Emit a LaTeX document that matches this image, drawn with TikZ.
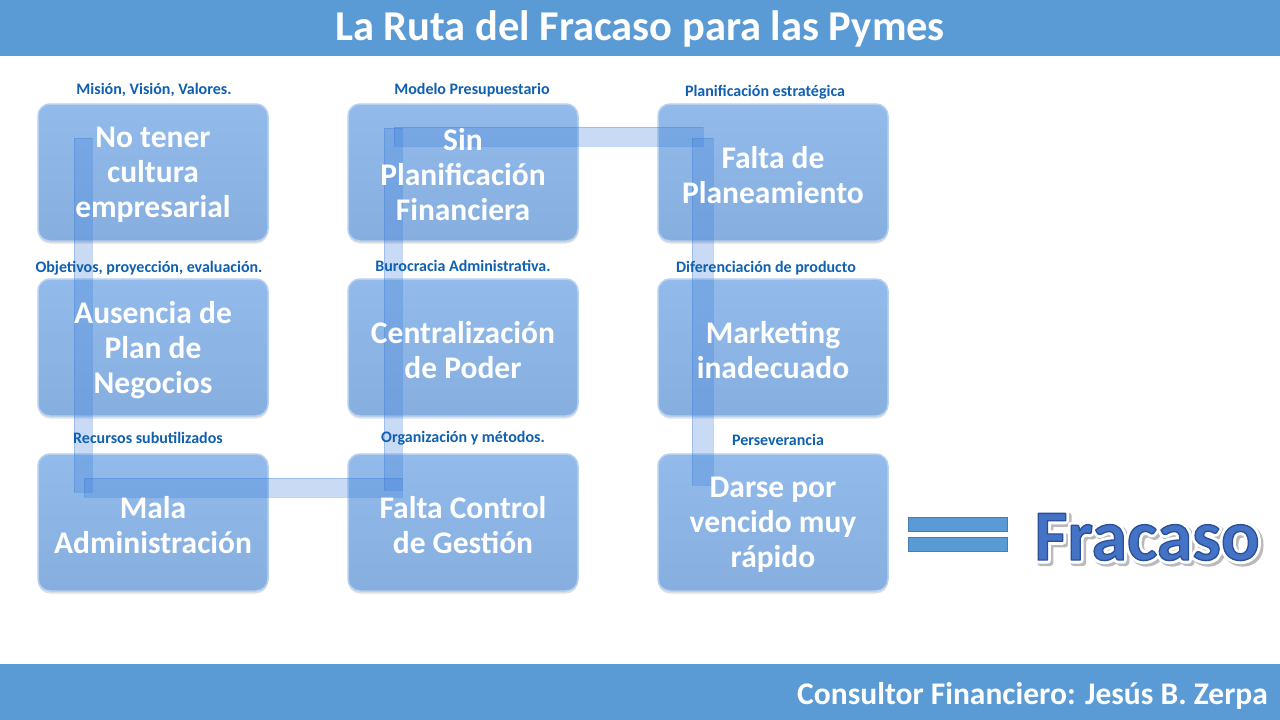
\documentclass[tikz,border=0pt]{standalone}
\usepackage{fontspec}
\setmainfont{Carlito}
\usetikzlibrary{shadows}
\definecolor{barblue}{RGB}{91,155,213}
\definecolor{boxtop}{RGB}{146,187,235}
\definecolor{boxbot}{RGB}{134,175,224}
\definecolor{boxedge}{RGB}{182,208,242}
\definecolor{bandc}{RGB}{58,123,216}
\definecolor{labelc}{RGB}{16,96,176}
\definecolor{fracc}{RGB}{68,114,196}
\definecolor{fracshadow}{RGB}{185,185,190}
\definecolor{eqedge}{RGB}{70,125,185}
\newcommand\strokedtext[3]{\special{pdf:literal direct 2 Tr 1 j #1 w #2 RG}#3\special{pdf:literal direct 0 Tr}}
\begin{document}
\begin{tikzpicture}[x=1pt,y=-1pt,
  stepbox/.style={draw=boxedge, line width=1.5pt, top color=boxtop, bottom color=boxbot, rounded corners=12pt,
    minimum width=230pt, minimum height=137pt, inner sep=0pt,
    drop shadow={opacity=0.25, shadow xshift=0pt, shadow yshift=-2.5pt}},
  boxtext/.style={text=white, font=\fontsize{31.5}{35}\selectfont\bfseries, align=center, yshift=-2.5pt},
  lbl/.style={text=labelc, font=\fontsize{16}{18}\selectfont\bfseries, inner sep=0pt},
  band/.style={fill=bandc, fill opacity=0.28, draw=bandc, draw opacity=0.3, line width=0.8pt},
  bar/.style={fill=barblue, draw=none},
  eqbar/.style={fill=barblue, draw=eqedge, line width=0.8pt},
  fr/.style={font=\fontsize{72}{80}\selectfont\bfseries, inner sep=0pt}]
\useasboundingbox (0,0) rectangle (1280,720);
\fill[white] (0,0) rectangle (1280,720);
% bars
\fill[bar] (0,0) rectangle (1280,56);
\fill[bar] (0,664) rectangle (1280,720);
\node[text=white, font=\fontsize{42.5}{48}\selectfont\bfseries] (title) at (640,29) {La Ruta del Fracaso para las Pymes};
\node[text=white, font=\fontsize{31.5}{36}\selectfont\bfseries, anchor=east, inner sep=0pt] (author) at (1268,696) {Consultor Financiero: Jesús B. Zerpa};
% boxes
\node[stepbox] (b1) at (153,172.5) {};
\node[stepbox] (b2) at (463,172.5) {};
\node[stepbox] (b3) at (773,172.5) {};
\node[stepbox] (b4) at (153,347.5) {};
\node[stepbox] (b5) at (463,347.5) {};
\node[stepbox] (b6) at (773,347.5) {};
\node[stepbox] (b7) at (153,522.5) {};
\node[stepbox] (b8) at (463,522.5) {};
\node[stepbox] (b9) at (773,522.5) {};
% route band
\draw[band] (74,138) rectangle (92,492);
\draw[band] (84,478) rectangle (402,497);
\draw[band] (384,128) rectangle (402,490);
\draw[band] (394,127) rectangle (703,146);
\draw[band] (692,138) rectangle (713,485);
% box texts
\node[boxtext] (t1) at (b1.center) {No tener\\cultura\\empresarial};
\node[boxtext] (t2) at (b2.center) {Sin\\Planificación\\Financiera};
\node[boxtext] (t3) at (b3.center) {Falta de\\Planeamiento};
\node[boxtext] (t4) at (b4.center) {Ausencia de\\Plan de\\Negocios};
\node[boxtext] (t5) at (b5.center) {Centralización\\de Poder};
\node[boxtext] (t6) at (b6.center) {Marketing\\inadecuado};
\node[boxtext] (t7) at (b7.center) {Mala\\Administración};
\node[boxtext] (t8) at (b8.center) {Falta Control\\de Gestión};
\node[boxtext] (t9) at (b9.center) {Darse por\\vencido muy\\rápido};
% labels
\node[lbl] (l1) at (154,90) {Misión, Visión, Valores.};
\node[lbl] (l2) at (472,90) {Modelo Presupuestario};
\node[lbl] (l3) at (765,92) {Planificación estratégica};
\node[lbl] (l4) at (149,268) {Objetivos, proyección, evaluación.};
\node[lbl] (l5) at (463,266) {Burocracia Administrativa.};
\node[lbl] (l6) at (766,268) {Diferenciación de producto};
\node[lbl] (l7) at (148,438) {Recursos subutilizados};
\node[lbl] (l8) at (463,438) {Organización y métodos.};
\node[lbl] (l9) at (778,440) {Perseverancia};
% equals
\draw[eqbar] (908,517) rectangle (1007,531);
\draw[eqbar] (908,537) rectangle (1007,551);
% Fracaso
\node[fr, text=fracshadow] (fshadow) at (1149.5,539.5) {\strokedtext{7}{0.725 0.725 0.745}{Fracaso}};
\node[fr, text=white] (fwhite) at (1147,537) {\strokedtext{7}{1 1 1}{Fracaso}};
\node[fr, text=fracc] (fracaso) at (1147,537) {\strokedtext{1.3}{0.16 0.31 0.6}{Fracaso}};
\end{tikzpicture}
\end{document}
